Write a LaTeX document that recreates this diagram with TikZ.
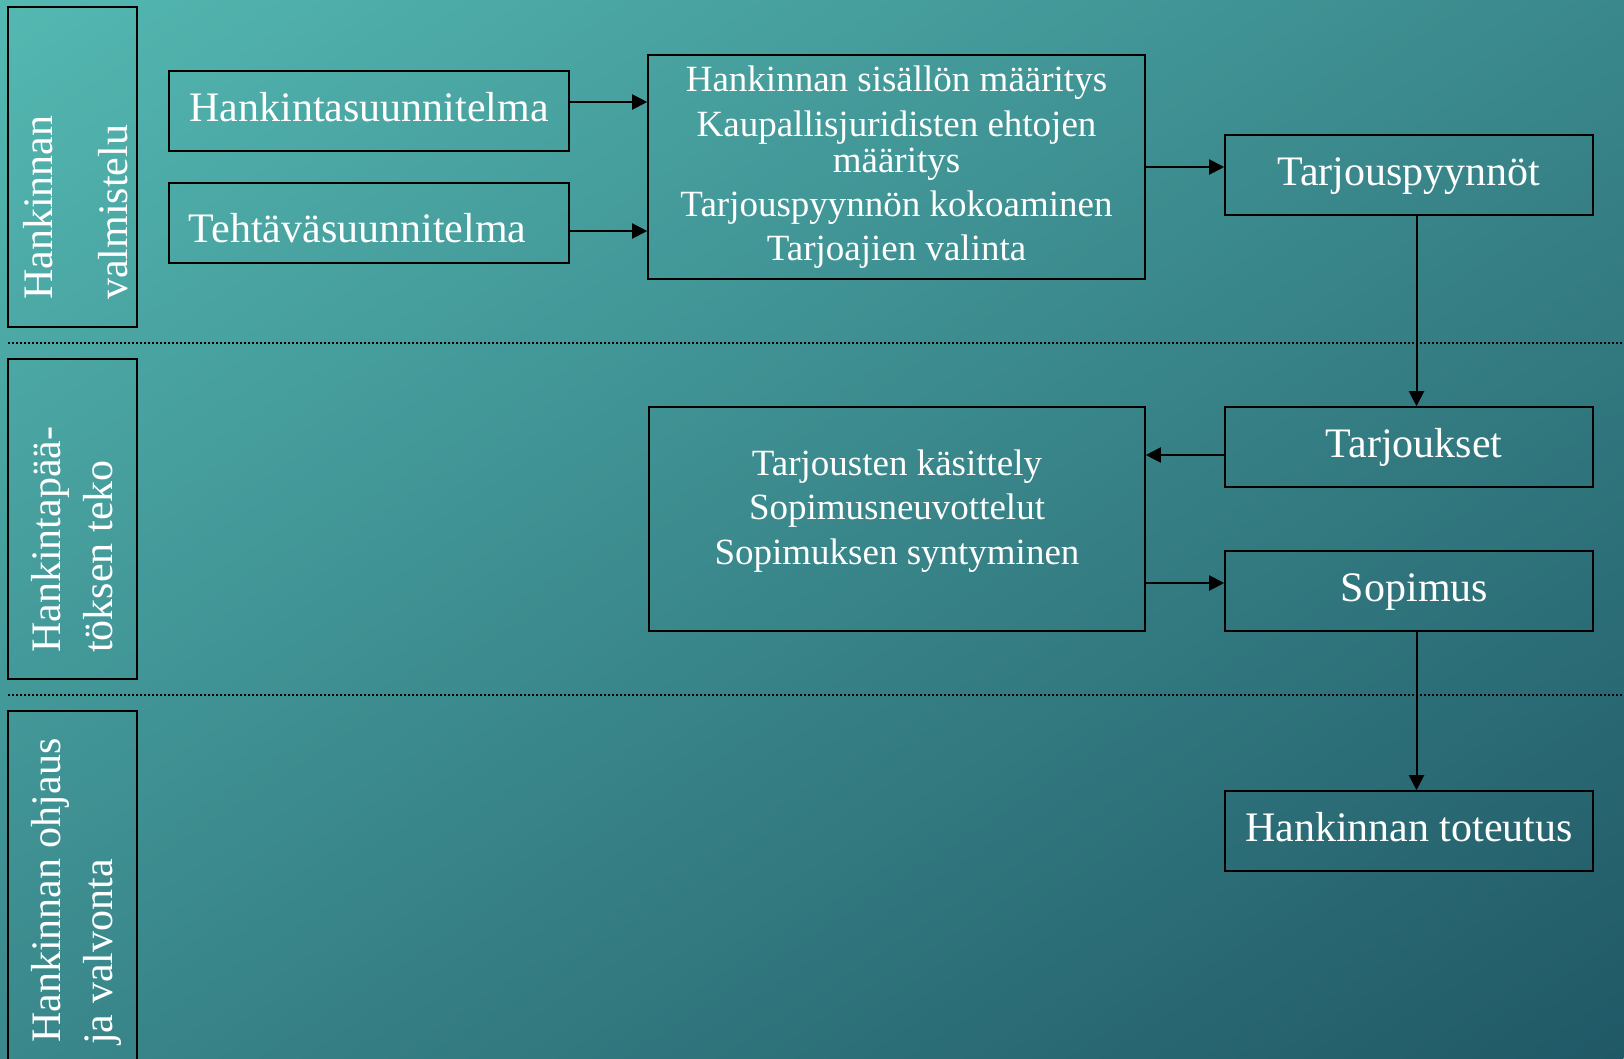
\documentclass[tikz,border=0pt]{standalone}
\usepackage{fontspec}
\setmainfont{Liberation Serif}
\usetikzlibrary{arrows.meta}
\definecolor{bgTL}{RGB}{84,184,177}
\definecolor{bgMid}{RGB}{62,148,146}
\definecolor{bgBR}{RGB}{32,88,102}
\begin{document}
\begin{tikzpicture}[x=1pt,y=-1pt,
  box/.style={draw=black, line width=1.6pt, rectangle, inner sep=0pt, text=white},
  smallbox/.style={box, minimum width=368pt, minimum height=80pt,
    font=\fontsize{42pt}{50pt}\selectfont, text height=29pt, text depth=9pt},
  bigbox/.style={box, minimum width=496pt, minimum height=224pt},
  sidebox/.style={box, minimum width=129pt},
  vlabel/.style={rotate=90, anchor=base west, inner sep=0pt, text=white,
    font=\fontsize{42pt}{50pt}\selectfont},
  plaintext/.style={inner sep=0pt, text=white},
  arr/.style={draw=black, line width=2pt, -{Triangle[length=15pt,width=15pt]}},
  divider/.style={draw=black, line width=1.8pt, dash pattern=on 2pt off 2pt}
]
\useasboundingbox (0,0) rectangle (1624,1058);
\begin{scope}
  \clip (0,0) rectangle (1624,1058);
  \shade[top color=bgTL, middle color=bgMid, bottom color=bgBR,
    transform canvas={rotate around={33:(812,529)}}]
    (-158,-357) rectangle (1782,1415);
\end{scope}

% dividers
\coordinate (d1a) at (8,343);
\coordinate (d1b) at (1624,343);
\coordinate (d2a) at (8,695);
\coordinate (d2b) at (1624,695);
\draw[divider] (d1a) -- (d1b);
\draw[divider] (d2a) -- (d2b);

% side labels
\node[sidebox, minimum height=320pt] (lbA) at (72.5,167) {};
\node[vlabel] (lA1) at (52,300) {Hankinnan};
\node[vlabel] (lA2) at (127,300) {valmistelu};

\node[sidebox, minimum height=320pt] (lbB) at (72.5,519) {};
\node[vlabel] (lB1) at (60,653) {Hankintapää-};
\node[vlabel] (lB2) at (112,653) {töksen teko};

\node[sidebox, minimum height=360pt] (lbC) at (72.5,891) {};
\node[vlabel] (lC1) at (60,1043) {Hankinnan ohjaus};
\node[vlabel] (lC2) at (112,1045) {ja valvonta};

% boxes
\node[smallbox, minimum width=400pt] (hs) at (369,111) {Hankintasuunnitelma};
\node[box, minimum width=400pt, minimum height=80pt] (ts) at (369,223) {};
\node[plaintext, anchor=base west, font=\fontsize{42pt}{50pt}\selectfont] (tst) at (188.5,242) {Tehtäväsuunnitelma};

\node[bigbox, minimum width=497pt, align=center, font=\fontsize{37pt}{36pt}\selectfont]
  (big1) at (896.5,167)
  {Hankinnan sisällön määritys\\[9pt]Kaupallisjuridisten ehtojen\\määritys\\[8pt]Tarjouspyynnön kokoaminen\\[8pt]Tarjoajien valinta};

\node[smallbox] (tp) at (1409,175) {Tarjouspyynnöt};
\node[smallbox] (tk) at (1409,447) {\hspace*{10pt}Tarjoukset};
\node[smallbox] (sp) at (1409,591) {\hspace*{11pt}Sopimus};
\node[smallbox] (ht) at (1409,831) {Hankinnan toteutus};

\node[bigbox] (big2) at (897,519) {};
\node[plaintext, align=center, font=\fontsize{37pt}{44.5pt}\selectfont] (big2t) at (897,511)
  {Tarjousten käsittely\\Sopimusneuvottelut\\Sopimuksen syntyminen};

% connectors
\coordinate (c1) at ([yshift=9pt]hs.east);
\draw[arr] (c1) -- (c1 -| big1.west);
\coordinate (c2) at ([yshift=-8pt]ts.east);
\draw[arr] (c2) -- (c2 -| big1.west);
\draw[arr] (big1.east) -- (big1.east -| tp.west);
\coordinate (c3) at ([xshift=7.5pt]tp.south);
\draw[arr] (c3) -- (c3 |- tk.north);
\coordinate (c4) at ([yshift=-8pt]tk.west);
\draw[arr] (c4) -- (c4 -| big2.east);
\coordinate (c5) at ([yshift=8pt]sp.west);
\draw[arr] (c5 -| big2.east) -- (c5);
\coordinate (c6) at ([xshift=7.5pt]sp.south);
\draw[arr] (c6) -- (c6 |- ht.north);
\end{tikzpicture}
\end{document}
